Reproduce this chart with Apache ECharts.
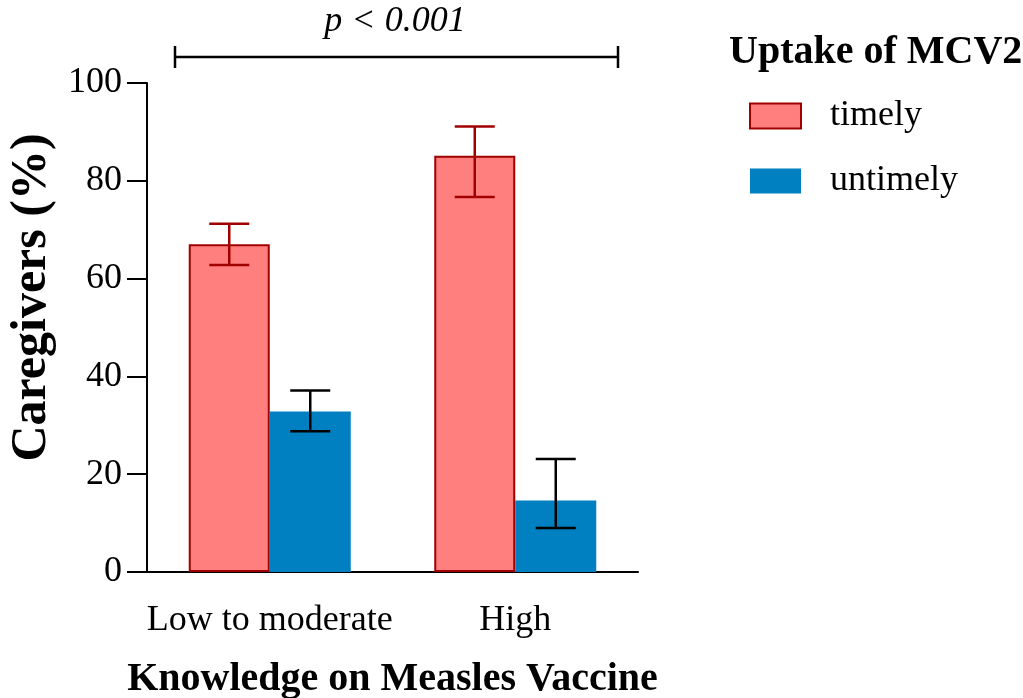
<!DOCTYPE html>
<html>
<head>
<meta charset="utf-8">
<script src="https://cdn.jsdelivr.net/npm/echarts@6/dist/echarts.min.js"></script>
<style>html,body{margin:0;padding:0;background:#fff;}#c{width:1023px;height:698px;}</style>
</head>
<body>
<div id="c"></div>
<script>
const categories = ['Low to moderate', 'High'];
const seriesNames = ['timely', 'untimely'];
const timelyValues = [67.0, 85.1];
const untimelyValues = [32.8, 14.6];
const timelyErrLow = [62.8, 76.7];
const timelyErrHigh = [71.2, 91.1];
const untimelyErrLow = [28.8, 9.0];
const untimelyErrHigh = [37.1, 23.1];
const yTicks = [0, 20, 40, 60, 80, 100];
const pText = 'p < 0.001';

const FONT = '"Liberation Serif", "Times New Roman", serif';
const RED_FILL = '#FF7F7F', RED_EDGE = '#A00000', BLUE = '#0080C0';
const BAR_W = 81;

function errData(lo, hi) {
  return categories.map((c, i) => [i, lo[i], hi[i]]);
}
function errRender(offset, color) {
  return function (params, api) {
    const i = api.value(0);
    const pLo = api.coord([i, api.value(1)]);
    const pHi = api.coord([i, api.value(2)]);
    const x = pLo[0] + offset;
    const hw = 20;
    const st = { stroke: color, lineWidth: 2.5 };
    return {
      type: 'group',
      children: [
        { type: 'line', shape: { x1: x, y1: pLo[1], x2: x, y2: pHi[1] }, style: st },
        { type: 'line', shape: { x1: x - hw, y1: pLo[1], x2: x + hw, y2: pLo[1] }, style: st },
        { type: 'line', shape: { x1: x - hw, y1: pHi[1], x2: x + hw, y2: pHi[1] }, style: st }
      ]
    };
  };
}

const chart = echarts.init(document.getElementById('c'));
chart.setOption({
  animation: false,
  backgroundColor: '#fff',
  textStyle: { fontFamily: FONT },
  grid: { left: 147, right: 385, top: 83, bottom: 126, containLabel: false, outerBoundsMode: 'none' },
  title: {
    text: 'Uptake of MCV2', left: 729, top: 33, padding: 0,
    textStyle: { fontFamily: FONT, fontWeight: 'bold', fontSize: 40, color: '#000' }
  },
  legend: {
    data: seriesNames, orient: 'vertical', left: 749, top: 98, padding: 0,
    icon: 'rect', itemWidth: 51, itemHeight: 25, itemGap: 29,
    textStyle: { fontFamily: FONT, fontSize: 36, color: '#000', padding: [0, 0, 0, 24] }
  },
  xAxis: {
    type: 'category', data: categories,
    name: 'Knowledge on Measles Vaccine', nameLocation: 'middle', nameGap: 88,
    nameTextStyle: { fontFamily: FONT, fontWeight: 'bold', fontSize: 40, color: '#000' },
    axisLine: { lineStyle: { color: '#000', width: 2 } },
    axisTick: { alignWithLabel: true, interval: 0, length: 19, lineStyle: { color: '#000', width: 2 } },
    axisLabel: { interval: 0, hideOverlap: false, fontFamily: FONT, fontSize: 36, color: '#000', margin: 31 }
  },
  yAxis: {
    type: 'value', min: 0, max: 100, interval: 20,
    name: 'Caregivers (%)', nameLocation: 'middle', nameGap: 90,
    nameTextStyle: { fontFamily: FONT, fontWeight: 'bold', fontSize: 50, color: '#000', padding: [0, 0, 0, 60] },
    splitLine: { show: false },
    axisLine: { show: true, lineStyle: { color: '#000', width: 2 } },
    axisTick: { show: true, length: 20, lineStyle: { color: '#000', width: 2 } },
    axisLabel: { fontFamily: FONT, fontSize: 36, color: '#000', margin: 25,
      formatter: v => yTicks.includes(v) ? String(v) : '' }
  },
  series: [
    { name: seriesNames[0], type: 'bar', data: timelyValues, barWidth: BAR_W, barGap: '0%',
      itemStyle: { color: RED_FILL, borderColor: RED_EDGE, borderWidth: 2 } },
    { name: seriesNames[1], type: 'bar', data: untimelyValues, barWidth: BAR_W, barGap: '0%',
      itemStyle: { color: BLUE, borderColor: BLUE, borderWidth: 0 } },
    { type: 'custom', data: errData(timelyErrLow, timelyErrHigh), renderItem: errRender(-BAR_W / 2, RED_EDGE), z: 5, silent: true },
    { type: 'custom', data: errData(untimelyErrLow, untimelyErrHigh), renderItem: errRender(BAR_W / 2, '#000'), z: 5, silent: true }
  ],
  graphic: [
    { type: 'line', shape: { x1: 175, y1: 57, x2: 618, y2: 57 }, style: { stroke: '#000', lineWidth: 2.5 } },
    { type: 'line', shape: { x1: 175, y1: 46, x2: 175, y2: 68 }, style: { stroke: '#000', lineWidth: 2.5 } },
    { type: 'line', shape: { x1: 618, y1: 46, x2: 618, y2: 68 }, style: { stroke: '#000', lineWidth: 2.5 } },
    { type: 'text', x: 395, y: 22, style: { text: pText, font: 'italic 36px ' + FONT, fill: '#000', align: 'center', verticalAlign: 'middle' } }
  ]
});
</script>
</body>
</html>
